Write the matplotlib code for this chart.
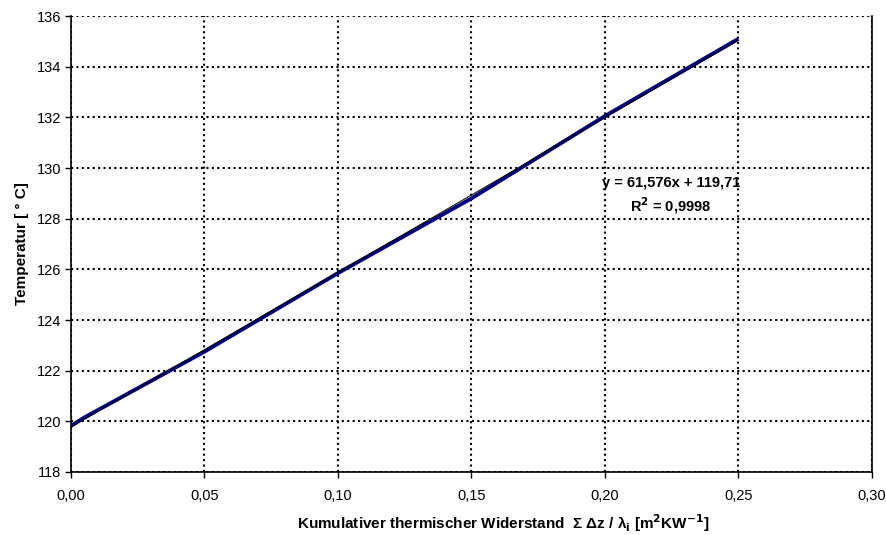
import matplotlib
matplotlib.use("Agg")
import matplotlib.pyplot as plt
import numpy as np

plt.rcParams['font.family'] = ['Liberation Sans', 'DejaVu Sans']

# data: cumulative thermal resistance vs temperature
R_cum = [0.0, 0.005, 0.05, 0.10, 0.15, 0.20, 0.25]
temp = [119.82, 120.15, 122.75, 125.85, 128.80, 132.05, 135.10]

x_ticks = [0.0, 0.05, 0.10, 0.15, 0.20, 0.25, 0.30]
x_labels = ['0,00', '0,05', '0,10', '0,15', '0,20', '0,25', '0,30']
y_ticks = [118, 120, 122, 124, 126, 128, 130, 132, 134, 136]

eq_text = 'y = 61,576x + 119,71'
r2_text = 'R$^\\mathbf{2}$ = 0,9998'

fig = plt.figure(figsize=(8.86, 5.35), dpi=100)
ax = fig.add_axes([0.0801, 0.1178, 0.9039, 0.8522])

ax.plot(R_cum, temp, color='#000080', lw=2.8, solid_capstyle='butt', zorder=3)

# linear trendline
k, d = np.polyfit(R_cum, temp, 1)
xt = np.array([min(R_cum), max(R_cum)])
ax.plot(xt, k * xt + d, color='black', lw=0.7, zorder=4)

ax.set_xlim(0, 0.30)
ax.set_ylim(118, 136)
ax.set_xticks(x_ticks)
ax.set_xticklabels(x_labels)
ax.set_yticks(y_ticks)
ax.tick_params(direction='out', length=4, width=1, labelsize=10.5, pad=3)
ax.tick_params(axis='x', pad=8)

ax.grid(True, color='black', lw=1.5, linestyle=(0, (1, 1.6)))
ax.set_axisbelow(True)
ax.spines['top'].set_visible(False)
for s in ['left', 'bottom', 'right']:
    ax.spines[s].set_linewidth(1.2)

ax.set_ylabel('Temperatur [ ° C]', fontsize=11, fontweight='bold')
ax.yaxis.set_label_coords(-0.053, 0.5)
ax.set_xlabel('Kumulativer thermischer Widerstand  \u03a3 \u0394z / \u03bb$_\\mathbf{i}$ [m$^\\mathbf{2}$KW$^\\mathbf{-1}$]',
              fontsize=11, fontweight='bold')
ax.xaxis.set_label_coords(0.54, -0.088)

ax.text(0.2247, 129.39, eq_text, fontsize=10.5, fontweight='bold', ha='center', va='center')
ax.text(0.2247, 128.52, r2_text, fontsize=10.5, fontweight='bold', ha='center', va='center')

fig.savefig('out.png', dpi=100)
